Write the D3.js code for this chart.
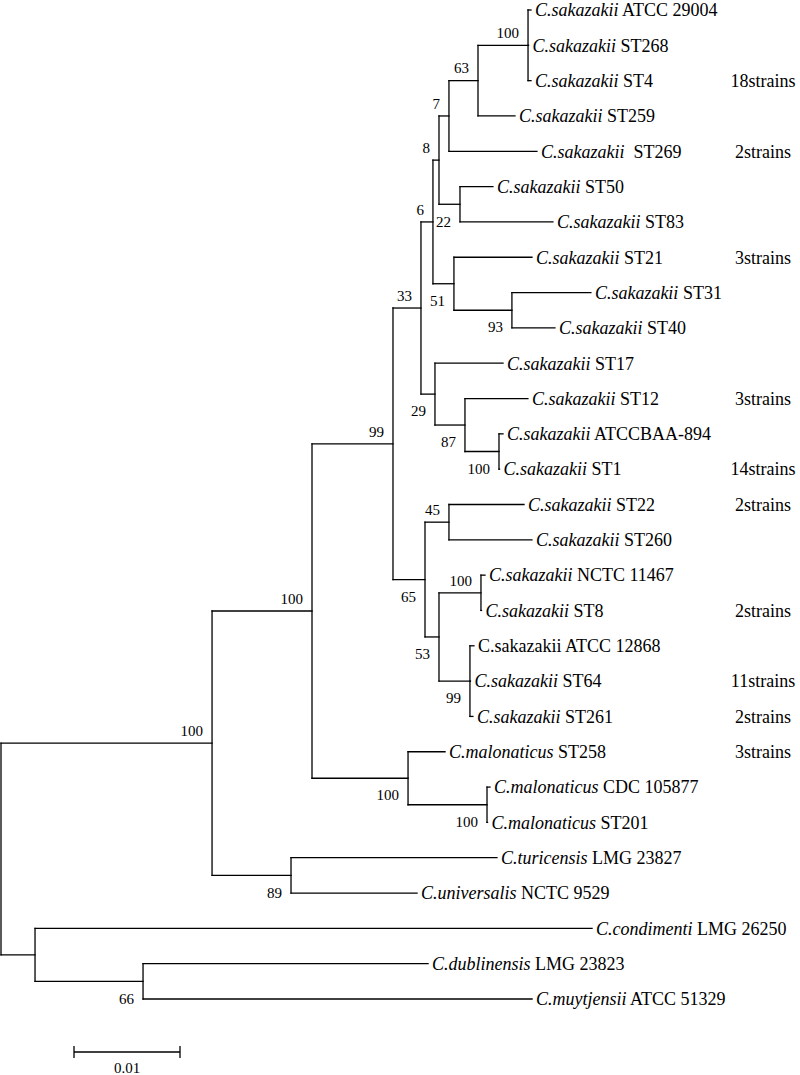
<!DOCTYPE html>
<html lang="en">
<head>
    <meta charset="UTF-8">
    <script src="https://d3js.org/d3.v7.min.js"></script>
    <title>Cronobacter tree</title>
    <style>
        body { margin: 0; background: #fff; }
        svg text { font-family: "Liberation Serif", "DejaVu Serif", serif; fill: #000; white-space: pre; }
    </style>
</head>
<body>
    <svg width="800" height="1075"></svg>
    <script>
        // internal nodes: id, parent, branch length, bootstrap
        var nodeIds     = ["root", "c1", "c2", "c3", "c4", "c5", "c6", "c7", "c8", "c9", "c10", "c11", "c12",
                           "c13", "c14", "c15", "c16", "c17", "c18", "c19", "c20", "c21", "c22", "c23", "c24", "c25"];
        var nodeParents = ["", "root", "c1", "c2", "c3", "c4", "c5", "c6", "c7", "c8", "c6", "c5", "c11",
                           "c4", "c13", "c14", "c3", "c16", "c16", "c18", "c18", "c2", "c21", "c1", "root", "c24"];
        var nodeLengths = [0, 0.01991, 0.00943, 0.00764, 0.00264, 0.00113, 0.00057, 0.00094, 0.00274, 0.00472, 0.00198, 0.00198, 0.00547,
                           0.00132, 0.00283, 0.00321, 0.00302, 0.00226, 0.00132, 0.00396, 0.00292, 0.00906, 0.00745, 0.00745, 0.00321, 0.01019];
        var nodeSupport = ["", "100", "100", "99", "33", "6", "8", "7", "63", "100", "22", "51", "93",
                           "29", "87", "100", "65", "45", "53", "100", "99", "100", "100", "89", "", "66"];

        // leaves, top to bottom
        var leafSpecies = ["C.sakazakii", "C.sakazakii", "C.sakazakii", "C.sakazakii", "C.sakazakii", "C.sakazakii", "C.sakazakii",
                           "C.sakazakii", "C.sakazakii", "C.sakazakii", "C.sakazakii", "C.sakazakii", "C.sakazakii", "C.sakazakii",
                           "C.sakazakii", "C.sakazakii", "C.sakazakii", "C.sakazakii", "C.sakazakii", "C.sakazakii", "C.sakazakii",
                           "C.malonaticus", "C.malonaticus", "C.malonaticus", "C.turicensis", "C.universalis",
                           "C.condimenti", "C.dublinensis", "C.muytjensii"];
        var leafStrain  = ["ATCC 29004", "ST268", "ST4", "ST259", " ST269", "ST50", "ST83",
                           "ST21", "ST31", "ST40", "ST17", "ST12", "ATCCBAA-894", "ST1",
                           "ST22", "ST260", "NCTC 11467", "ST8", "ATCC 12868", "ST64", "ST261",
                           "ST258", "CDC 105877", "ST201", "LMG 23827", "NCTC 9529",
                           "LMG 26250", "LMG 23823", "ATCC 51329"];
        var leafParents = ["c9", "c9", "c9", "c8", "c7", "c10", "c10",
                           "c11", "c12", "c12", "c13", "c14", "c15", "c15",
                           "c17", "c17", "c19", "c19", "c20", "c20", "c20",
                           "c21", "c22", "c22", "c23", "c23",
                           "c24", "c25", "c25"];
        var leafLengths = [0.00028, 0.00005, 0.00028, 0.00349, 0.00830, 0.00311, 0.00877,
                           0.00736, 0.00745, 0.00406, 0.00642, 0.00594, 0.00038, 0.00005,
                           0.00708, 0.00783, 0.00038, 0.00005, 0.00038, 0.00005, 0.00028,
                           0.00349, 0.00028, 0.00005, 0.01943, 0.01189,
                           0.05255, 0.02689, 0.03670];
        var leafCounts  = ["", "", "18strains", "", "2strains", "", "",
                           "3strains", "", "", "", "3strains", "", "14strains",
                           "2strains", "", "", "2strains", "", "11strains", "2strains",
                           "3strains", "", "", "", "",
                           "", "", ""];

        var scaleBarValue = 0.01;
        var serif = "'Liberation Serif', 'DejaVu Serif', serif";

        var rows = [];
        nodeIds.forEach(function(id, i) {
            rows.push({id: id, parent: nodeParents[i] || null, len: nodeLengths[i], support: nodeSupport[i]});
        });
        leafStrain.forEach(function(s, i) {
            rows.push({id: "leaf" + i, parent: leafParents[i], len: leafLengths[i], leaf: i,
                       species: leafSpecies[i], strain: s, count: leafCounts[i]});
        });

        var root = d3.stratify()
            .id(function(d) { return d.id; })
            .parentId(function(d) { return d.parent; })(rows);

        var x = d3.scaleLinear().domain([0, 0.01]).range([1, 107]);
        var y = d3.scaleLinear().domain([0, leafStrain.length - 1]).range([10, 999]);

        // cumulative distance from root
        root.eachBefore(function(n) {
            n.dist = n.parent ? n.parent.dist + n.data.len : 0;
            n.px = x(n.dist);
        });
        root.eachAfter(function(n) {
            if (n.children) {
                var ys = n.children.map(function(c) { return c.py; });
                n.ymin = d3.min(ys);
                n.ymax = d3.max(ys);
                n.py = (n.ymin + n.ymax) / 2;
            } else {
                n.py = y(n.data.leaf);
            }
        });

        var svg = d3.select("svg");
        var g = svg.append("g");

        // horizontal branches
        g.selectAll("line.h")
            .data(root.descendants().filter(function(n) { return n.parent; }))
            .join("line")
            .attr("class", "h")
            .attr("x1", function(d) { return d.parent.px; })
            .attr("x2", function(d) { return d.px; })
            .attr("y1", function(d) { return d.py; })
            .attr("y2", function(d) { return d.py; })
            .attr("stroke", "#000")
            .attr("stroke-width", 1.3)
            .attr("stroke-linecap", "square");

        // vertical connectors
        g.selectAll("line.v")
            .data(root.descendants().filter(function(n) { return n.children; }))
            .join("line")
            .attr("class", "v")
            .attr("x1", function(d) { return d.px; })
            .attr("x2", function(d) { return d.px; })
            .attr("y1", function(d) { return d.ymin; })
            .attr("y2", function(d) { return d.ymax; })
            .attr("stroke", "#000")
            .attr("stroke-width", 1.3)
            .attr("stroke-linecap", "square");

        // bootstrap values: above the branch for upper children, below for lower ones
        g.selectAll("text.boot")
            .data(root.descendants().filter(function(n) { return n.children && n.data.support; }))
            .join("text")
            .attr("class", "boot")
            .attr("x", function(d) { return d.px - 9; })
            .attr("y", function(d) {
                var above = d.parent && d.py < d.parent.py;
                return above ? d.py - 12.5 : d.py + 17;
            })
            .attr("dy", "0.35em")
            .attr("text-anchor", "end")
            .attr("font-family", serif)
            .style("font-size", "15px")
            .text(function(d) { return d.data.support; });

        var leaves = root.leaves();

        var labels = g.selectAll("text.leaf")
            .data(leaves)
            .join("text")
            .attr("class", "leaf")
            .attr("x", function(d) { return d.px + 4; })
            .attr("y", function(d) { return d.py; })
            .attr("dy", "0.35em")
            .attr("font-family", serif)
            .style("font-size", "18px");

        labels.append("tspan")
            .style("font-style", function(d) {
                // this one is set upright in the original figure
                return d.data.strain === "ATCC 12868" ? "normal" : "italic";
            })
            .text(function(d) { return d.data.species; });
        labels.append("tspan")
            .text(function(d) { return " " + d.data.strain; });

        g.selectAll("text.count")
            .data(leaves.filter(function(d) { return d.data.count; }))
            .join("text")
            .attr("class", "count")
            .attr("x", 763)
            .attr("y", function(d) { return d.py; })
            .attr("dy", "0.35em")
            .attr("text-anchor", "middle")
            .attr("font-family", serif)
            .style("font-size", "18px")
            .text(function(d) { return d.data.count; });

        // scale bar
        var barX0 = 74, barY = 1052;
        var barX1 = barX0 + x(scaleBarValue) - x(0);
        var bar = svg.append("g").attr("stroke", "#000").attr("stroke-width", 1.3);
        bar.append("line").attr("x1", barX0).attr("x2", barX1).attr("y1", barY).attr("y2", barY);
        bar.append("line").attr("x1", barX0).attr("x2", barX0).attr("y1", barY - 6).attr("y2", barY + 6);
        bar.append("line").attr("x1", barX1).attr("x2", barX1).attr("y1", barY - 6).attr("y2", barY + 6);
        svg.append("text")
            .attr("x", (barX0 + barX1) / 2)
            .attr("y", barY + 16)
            .attr("dy", "0.35em")
            .attr("text-anchor", "middle")
            .attr("font-family", serif)
            .style("font-size", "15px")
            .text(scaleBarValue);
    </script>
</body>
</html>
